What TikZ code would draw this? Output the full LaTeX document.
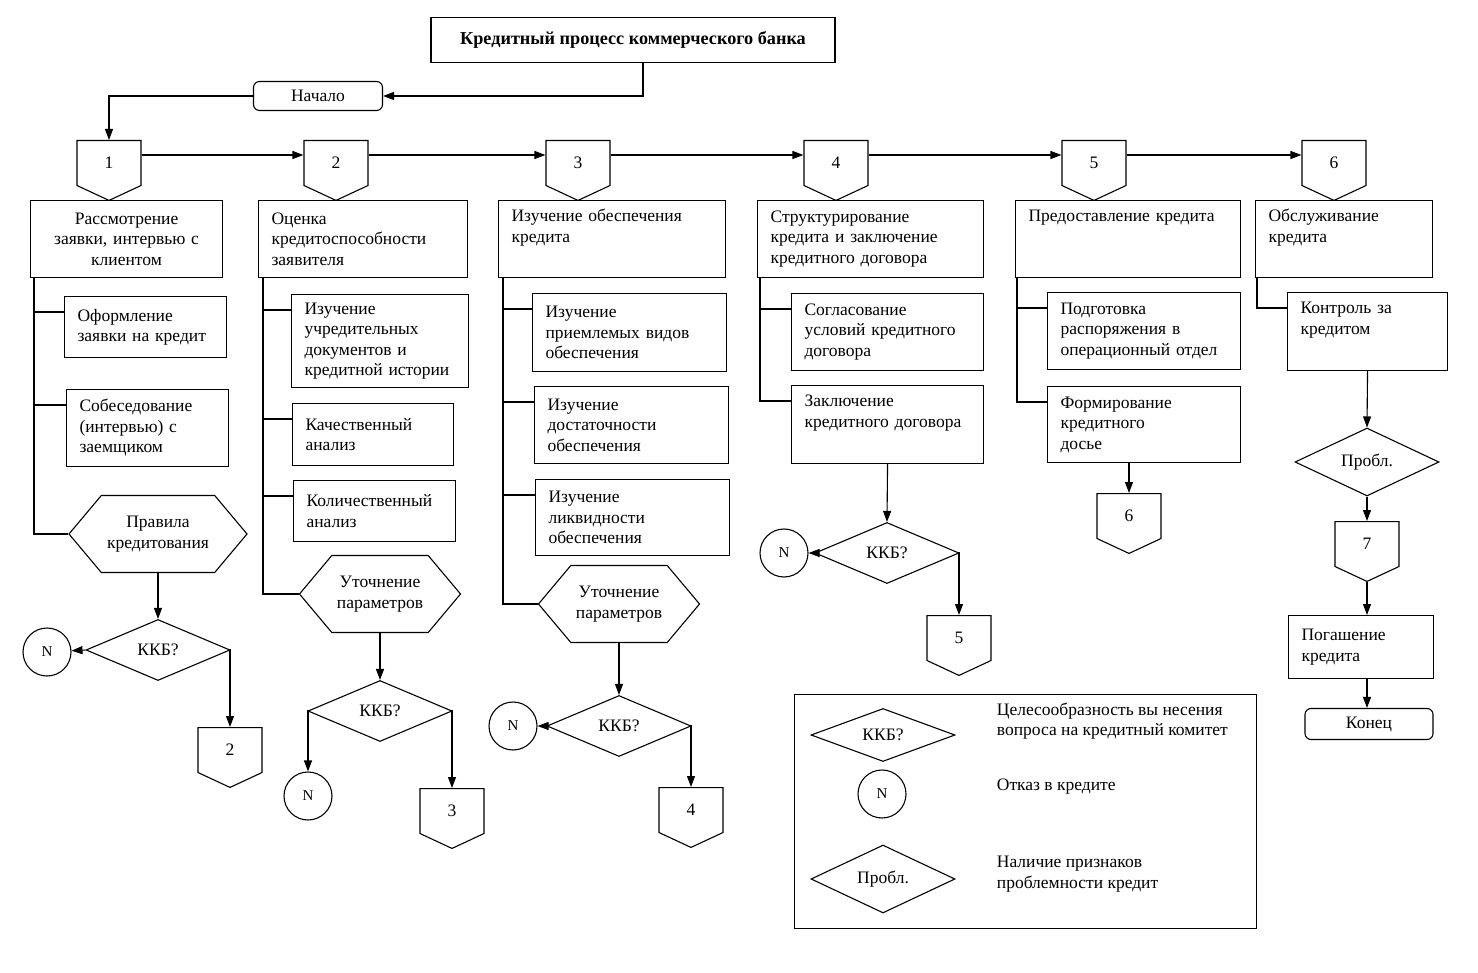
\documentclass[tikz,border=0pt]{standalone}
\usepackage{fontspec}
\setmainfont{Liberation Serif}
\usepackage{tikz}
\usetikzlibrary{shapes.geometric,shapes.symbols,arrows.meta,positioning}
\tikzset{>={Triangle[length=11pt,width=8pt]}}

\begin{document}
\begin{tikzpicture}[x=1pt,y=-1pt,
                    font=\fontsize{17.5}{20.5}\selectfont,
                    line width=1.1pt,
                    box/.style={draw, rectangle, anchor=north west, align=left, inner xsep=13pt, inner ysep=2pt},
                    mainbox/.style={box, minimum height=77},
                    conn/.style={draw, signal, signal to=south, signal pointer angle=130, minimum width=64, minimum height=47, inner sep=0pt, anchor=north},
                    hexa/.style={draw, signal, signal to=east and west, signal pointer angle=100, minimum height=77, align=center, inner sep=2pt},
                    kkb/.style={draw, diamond, minimum width=144, minimum height=61, inner sep=0pt},
                    refuse/.style={draw, circle, minimum size=48, inner sep=0pt, font=\fontsize{15}{18}\selectfont},
                    term/.style={draw, rectangle, rounded corners=6pt, inner sep=0pt},
                   ]
\useasboundingbox (0,0) rectangle (1478,973);

% title and start
\node[draw, minimum width=404, minimum height=45, font=\fontsize{18.2}{20}\selectfont\bfseries] (title) at (633,40) {Кредитный процесс коммерческого банка};
\node[term, minimum width=129, minimum height=29] (start) at (318,96) {Начало};
\draw[->] ([xshift=10pt]title.south) |- (start.east);

% stages
\foreach \n/\x in {1/109, 2/336, 3/578, 4/836, 5/1094, 6/1334}
  \node[conn] (c\n) at (\x,140) {\n};
\draw[->] (start.west) -| (c1.north);
\foreach \a/\b in {1/2, 2/3, 3/4, 4/5, 5/6}
  \draw[->] ([yshift=-15pt]c\a.north east) -- ([yshift=-15pt]c\b.north west);

\node[mainbox, text width=166, align=center] (r1) at (30,200) {Рассмотрение\\заявки, интервью с\\клиентом};
\node[mainbox, text width=183] (r2) at (258,200) {Оценка\\кредитоспособности\\заявителя};
\node[mainbox, text width=201] (r3) at (498,200) {Изучение обеспечения\\кредита\\\strut};
\node[mainbox, text width=200] (r4) at (757,200) {Структурирование\\кредита и заключение\\кредитного договора};
\node[mainbox, text width=199] (r5) at (1015,200) {Предоставление кредита\\\strut\\\strut};
\node[mainbox, text width=151] (r6) at (1255,200) {Обслуживание\\кредита\\\strut};

% column 1
\node[box, text width=136, minimum height=61] (o1) at (64,296) {Оформление\\заявки на кредит};
\node[box, text width=136, minimum height=77] (s1) at (66,389) {Собеседование\\(интервью) с\\заемщиком};
\node[hexa, minimum width=178] (h1) at (158,534) {Правила\\кредитования};
\node[kkb] (k1) at (158,650) {ККБ?};
\node[refuse] (n1) at (47,652) {N};
\node[conn] (c2b) at (230,727) {2};
\foreach \b in {o1,s1}
  \draw ([yshift=-16pt]\b.north west) -| ([xshift=4pt]r1.south west);
\draw (h1.west) -| ([xshift=4pt]r1.south west);
\draw[->] (h1.south) -- (k1.north);
\draw[->] (k1.west) -- (n1);
\draw[->] (k1.east) -| (c2b.north);

% column 2
\node[box, text width=151, minimum height=93] (u2) at (291,294) {Изучение\\учредительных\\документов и\\кредитной истории};
\node[box, text width=135, minimum height=62] (q2) at (292,403) {Качественный\\анализ};
\node[box, text width=136, minimum height=61] (v2) at (293,480) {Количественный\\анализ};
\node[hexa, minimum width=161] (h2) at (380,594) {Уточнение\\параметров};
\node[kkb] (k2) at (380,711) {ККБ?};
\node[refuse] (n2) at (308,796) {N};
\node[conn] (c3b) at (452,788) {3};
\foreach \b in {u2,q2,v2}
  \draw ([yshift=-16pt]\b.north west) -| ([xshift=5pt]r2.south west);
\draw (h2.west) -| ([xshift=5pt]r2.south west);
\draw[->] (h2.south) -- (k2.north);
\draw[->] (k2.west) -| (n2.north);
\draw[->] (k2.east) -| (c3b.north);

% column 3
\node[box, text width=168, minimum height=78] (p3) at (532,293) {Изучение\\приемлемых видов\\обеспечения};
\node[box, text width=168, minimum height=77] (d3) at (534,386) {Изучение\\достаточности\\обеспечения};
\node[box, text width=168, minimum height=76] (l3) at (535,479) {Изучение\\ликвидности\\обеспечения};
\node[hexa, minimum width=161] (h3) at (619,604) {Уточнение\\параметров};
\node[kkb] (k3) at (619,726) {ККБ?};
\node[refuse] (n3) at (513,726) {N};
\node[conn] (c4b) at (691,787) {4};
\foreach \b in {p3,d3,l3}
  \draw ([yshift=-16pt]\b.north west) -| ([xshift=5pt]r3.south west);
\draw (h3.west) -| ([xshift=5pt]r3.south west);
\draw[->] (h3.south) -- (k3.north);
\draw[->] (k3.west) -- (n3);
\draw[->] (k3.east) -| (c4b.north);

% column 4
\node[box, text width=166, minimum height=77] (a4) at (791,293) {Согласование\\условий кредитного\\договора};
\node[box, text width=166, minimum height=78] (z4) at (791,385) {Заключение\\кредитного договора\\\strut};
\node[kkb] (k4) at (887,553) {ККБ?};
\node[refuse] (n4) at (784,553) {N};
\node[conn] (c5b) at (959,615) {5};
\foreach \b in {a4,z4}
  \draw ([yshift=-16pt]\b.north west) -| ([xshift=3pt]r4.south west);
\draw[->] (z4.south) -- (k4.north);
\draw[->] (k4.west) -- (n4);
\draw[->] (k4.east) -| (c5b.north);

% column 5
\node[box, text width=167, minimum height=77] (g5) at (1047,292) {Подготовка\\распоряжения в\\операционный отдел};
\node[box, text width=167, minimum height=76] (f5) at (1047,386) {Формирование\\кредитного\\досье};
\node[conn] (c6b) at (1129,493) {6};
\foreach \b in {g5,f5}
  \draw ([yshift=-16pt]\b.north west) -| ([xshift=2pt]r5.south west);
\draw[->] (c6b.north |- f5.south) -- (c6b.north);

% column 6
\node[box, text width=134, minimum height=78] (m6) at (1287,292) {Контроль за\\кредитом\\\strut};
\node[kkb, minimum height=60] (pr) at (1367,462) {Пробл.};
\node[conn] (c7) at (1367,521) {7};
\node[box, text width=119, minimum height=63] (pg) at (1288,615) {Погашение\\кредита};
\node[term, minimum width=128, minimum height=31] (end) at (1369,724) {Конец};
\draw ([yshift=-16pt]m6.north west) -| ([xshift=2pt]r6.south west);
\draw[->] (m6.south) -- (pr.north);
\draw[->] (pr.south) -- (c7.north);
\draw[->] (c7.south) -- (c7.south |- pg.north);
\draw[->] (c7.south |- pg.south) -- (c7.south |- end.north);

% legend
\node[draw, rectangle, minimum width=462, minimum height=234, anchor=north west] (legend) at (794,694) {};
\node[kkb, minimum height=50] (lk) at (883,735) {ККБ?};
\node[refuse] (ln) at (882,794) {N};
\node[kkb, minimum height=59] (lp) at (883,879) {Пробл.};
\node[anchor=west, align=left] (lkt) at (993,721) {Целесообразность вы несения\\вопроса на кредитный комитет};
\node[anchor=west] (lnt) at (993,787) {Отказ в кредите};
\node[anchor=west, align=left] (lpt) at (993,874) {Наличие признаков\\проблемности кредит};

\end{tikzpicture}
\end{document}
